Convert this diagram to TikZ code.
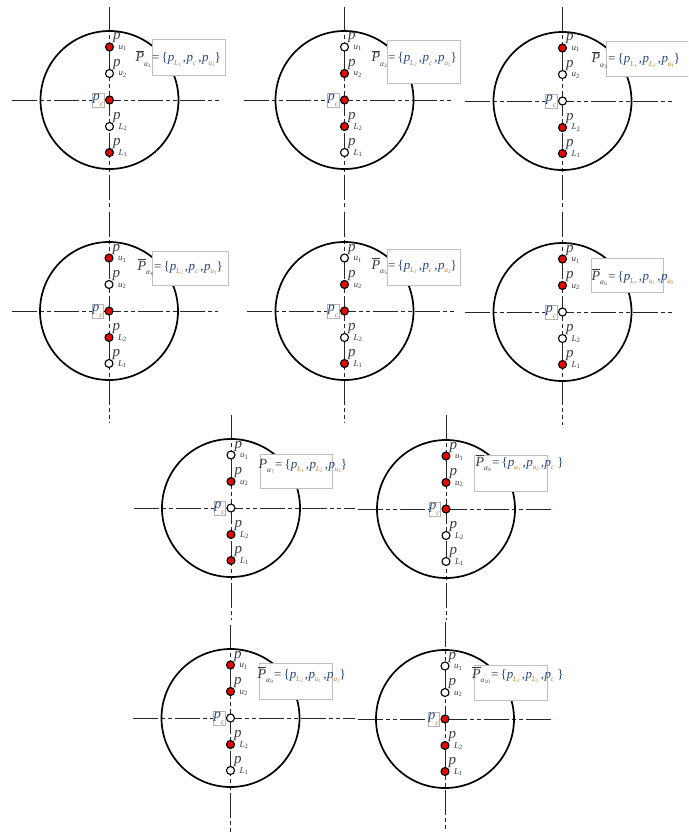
\documentclass[tikz,border=0pt]{standalone}
\usepackage{fontspec}
\setmainfont{Liberation Serif}
\definecolor{pred}{RGB}{225,10,10}
\definecolor{fblue}{RGB}{40,70,125}
\definecolor{forange}{RGB}{200,120,40}
\definecolor{lgray}{RGB}{60,60,60}
\newcommand\plab[2]{\fontsize{15}{15}\selectfont\textit{p}\kern-2pt\raisebox{-9.5pt}{\fontsize{9}{9}\selectfont\textit{#1}\raisebox{-1.5pt}{\fontsize{6.5}{6.5}\selectfont #2}}}
\newcommand\fp[2]{\textcolor{fblue}{\textit{p}}\kern-0.3pt\raisebox{-3.5pt}{\fontsize{7.5}{7.5}\selectfont\textcolor{forange}{\textit{#1}}\raisebox{-1.2pt}{\fontsize{5}{5}\selectfont\textcolor{forange}{#2}}}}
\newcommand\cp{\fontsize{14}{14}\selectfont\textcolor{fblue}{\textit{p}}\raisebox{-6pt}{\fontsize{8}{8}\selectfont\textcolor{forange}{\textit{c}}}}
\newcommand\Pb[1]{$\overline{\mbox{\textit{P}}}$\raisebox{-4.5pt}{\fontsize{7.5}{7.5}\selectfont\textit{α}\raisebox{-1.2pt}{\fontsize{5}{5}\selectfont #1}}}
\newcommand\Pn[1]{\textit{P}\raisebox{-4.5pt}{\fontsize{7.5}{7.5}\selectfont\textit{α}\raisebox{-1.2pt}{\fontsize{5}{5}\selectfont #1}}}
\newcommand\Axes[7]{%
  \coordinate (#1-l) at (#4,#3); \coordinate (#1-r) at (#5,#3);
  \coordinate (#1-t) at (#2,#6); \coordinate (#1-b) at (#2,#7);
  \coordinate (#1-o) at (#2,#3);
  \draw[axisline] (#1-l) -- (#1-r);
  \draw[axisline] (#1-t) -- (#1-b);
  \draw[rim] (#1-o) circle[radius=69pt];
}
\newcommand\Pts[8]{%
  \node[#4] (#1-u1) at (#2,#3-53) {};
  \node[#5] (#1-u2) at (#2,#3-26.5) {};
  \node[#6] (#1-c) at (#2,#3) {};
  \node[#7] (#1-L2) at (#2,#3+26.5) {};
  \node[#8] (#1-L1) at (#2,#3+52.5) {};
  \node[plabel] (#1-u1t) at (#2+3.5,#3-60) {\plab{u}{1}};
  \node[plabel] (#1-u2t) at (#2+3.5,#3-33.5) {\plab{u}{2}};
  \node[plabel] (#1-L2t) at (#2+3.5,#3+19.5) {\plab{L}{2}};
  \node[plabel] (#1-L1t) at (#2+3.5,#3+45.5) {\plab{L}{1}};
  \node[pclabel] (#1-ct) at (#2-5.5,#3) {\cp};
}
\newcommand\Fbox[5]{%
  \node[fbox, minimum width=#4pt, minimum height=#5pt] (#1-box) at (#2,#3) {};
}
\newcommand\cm{\,,\kern0.5pt}
\tikzset{
  axisline/.style={line width=0.9pt, draw=black!85, dash pattern=on 25pt off 3pt on 4pt off 3pt on 4pt off 3pt},
  rim/.style={line width=1.7pt, draw=black},
  pbase/.style={circle, draw=black, line width=1.1pt, minimum size=8pt, inner sep=0pt},
  R/.style={pbase, fill=pred},
  W/.style={pbase, fill=white},
  plabel/.style={anchor=base west, inner sep=0pt, text=lgray},
  pclabel/.style={anchor=east, draw=black!30, line width=0.4pt, inner sep=0.4pt, fill=white},
  fbox/.style={anchor=north west, draw=black!25, line width=0.6pt, fill=white, inner sep=0pt},
  flhs/.style={anchor=base east, inner sep=0pt, text=lgray, font=\fontsize{14}{14}\selectfont},
  frhs/.style={anchor=base west, inner sep=0pt, text=fblue, font=\fontsize{13}{13}\selectfont},
}
\begin{document}
\begin{tikzpicture}[x=1pt, y=-1pt]
\useasboundingbox (0,0) rectangle (688,832);
\fill[white] (0,0) rectangle (688,832);
\clip (0,0) rectangle (688,832);
% panels: axes and rims
\Axes{p1}{109.5}{100}{12}{220}{7}{210}
\Axes{p2}{344.5}{100}{244}{451}{7}{210}
\Axes{p3}{562.5}{101}{465}{673}{7}{210}
\Axes{p4}{109}{311}{12}{218}{212}{423}
\Axes{p5}{344.5}{311}{247}{454}{212}{423}
\Axes{p6}{562.5}{312}{465}{673}{212}{425}
\Axes{p7}{231}{508}{134}{355}{415}{620}
\Axes{p8}{446}{509}{358}{554}{415}{620}
\Axes{p9}{230.5}{718}{133}{355}{625}{832}
\Axes{p10}{445}{719}{358}{554}{622}{832}
% formula boxes
\Fbox{p1}{152}{39}{73}{36}
\Fbox{p2}{387}{40}{73}{43}
\Fbox{p3}{606}{41}{84}{35}
\Fbox{p4}{152}{251}{76}{34}
\Fbox{p5}{387}{249}{73}{36}
\Fbox{p6}{591}{258}{72}{34}
\Fbox{p7}{260}{454}{72}{34}
\Fbox{p8}{474}{455}{73}{36}
\Fbox{p9}{259}{663}{73}{36}
\Fbox{p10}{474}{665}{73}{35}
% points
\Pts{p1}{109.5}{100}{R}{W}{R}{W}{R}
\Pts{p2}{344.5}{100}{W}{R}{R}{R}{W}
\Pts{p3}{562.5}{101}{R}{W}{W}{R}{R}
\Pts{p4}{109}{311}{R}{W}{R}{R}{W}
\Pts{p5}{344.5}{311}{W}{R}{R}{W}{R}
\Pts{p6}{562.5}{312}{R}{R}{W}{W}{R}
\Pts{p7}{231}{508}{W}{R}{W}{R}{R}
\Pts{p8}{446}{509}{R}{R}{R}{W}{W}
\Pts{p9}{230.5}{718}{R}{R}{W}{R}{W}
\Pts{p10}{445}{719}{W}{W}{R}{R}{R}
% formulas
\node[flhs] (p1-lhs) at (151,62) {\Pb{1}};
\node[frhs] (p1-rhs) at (152,62) {\textcolor{lgray}{=}\,\{\fp{L}{1}\cm\fp{c}{}\cm\fp{u}{1}\}};
\node[flhs] (p2-lhs) at (387,62) {\Pb{2}};
\node[frhs] (p2-rhs) at (388,62) {\textcolor{lgray}{=}\,\{\fp{L}{2}\cm\fp{c}{}\cm\fp{u}{2}\}};
\node[flhs] (p3-lhs) at (607,63) {\Pb{3}};
\node[frhs] (p3-rhs) at (608,63) {\textcolor{lgray}{=}\,\{\fp{L}{1}\cm\fp{L}{2}\cm\fp{u}{1}\}};
\node[flhs] (p4-lhs) at (153,270) {\Pb{4}};
\node[frhs] (p4-rhs) at (154,270) {\textcolor{lgray}{=}\,\{\fp{L}{2}\cm\fp{c}{}\cm\fp{u}{1}\}};
\node[flhs] (p5-lhs) at (387,269) {\Pb{5}};
\node[frhs] (p5-rhs) at (388,269) {\textcolor{lgray}{=}\,\{\fp{L}{1}\cm\fp{c}{}\cm\fp{u}{2}\}};
\node[flhs] (p6-lhs) at (607,280) {\Pb{6}};
\node[frhs] (p6-rhs) at (608,280) {\textcolor{lgray}{=}\,\{\fp{L}{1}\cm\fp{u}{1}\cm\fp{u}{2}};
\node[flhs] (p7-lhs) at (274,468) {\Pn{7}};
\node[frhs] (p7-rhs) at (275,468) {\textcolor{lgray}{=}\,\{\fp{L}{1}\cm\fp{L}{2}\cm\fp{u}{2}\}};
\node[flhs] (p8-lhs) at (491,466) {\Pb{8}};
\node[frhs] (p8-rhs) at (492,466) {\textcolor{lgray}{=}\,\{\fp{u}{1}\cm\fp{u}{2}\cm\fp{c}{}\ \}};
\node[flhs] (p9-lhs) at (273,678) {\Pb{9}};
\node[frhs] (p9-rhs) at (274,678) {\textcolor{lgray}{=}\,\{\fp{L}{2}\cm\fp{u}{1}\cm\fp{u}{2}\}};
\node[flhs] (p10-lhs) at (490,678) {\Pb{10}};
\node[frhs] (p10-rhs) at (491,678) {\textcolor{lgray}{=}\,\{\fp{L}{1}\cm\fp{L}{2}\cm\fp{c}{}\ \}};
\end{tikzpicture}
\end{document}
